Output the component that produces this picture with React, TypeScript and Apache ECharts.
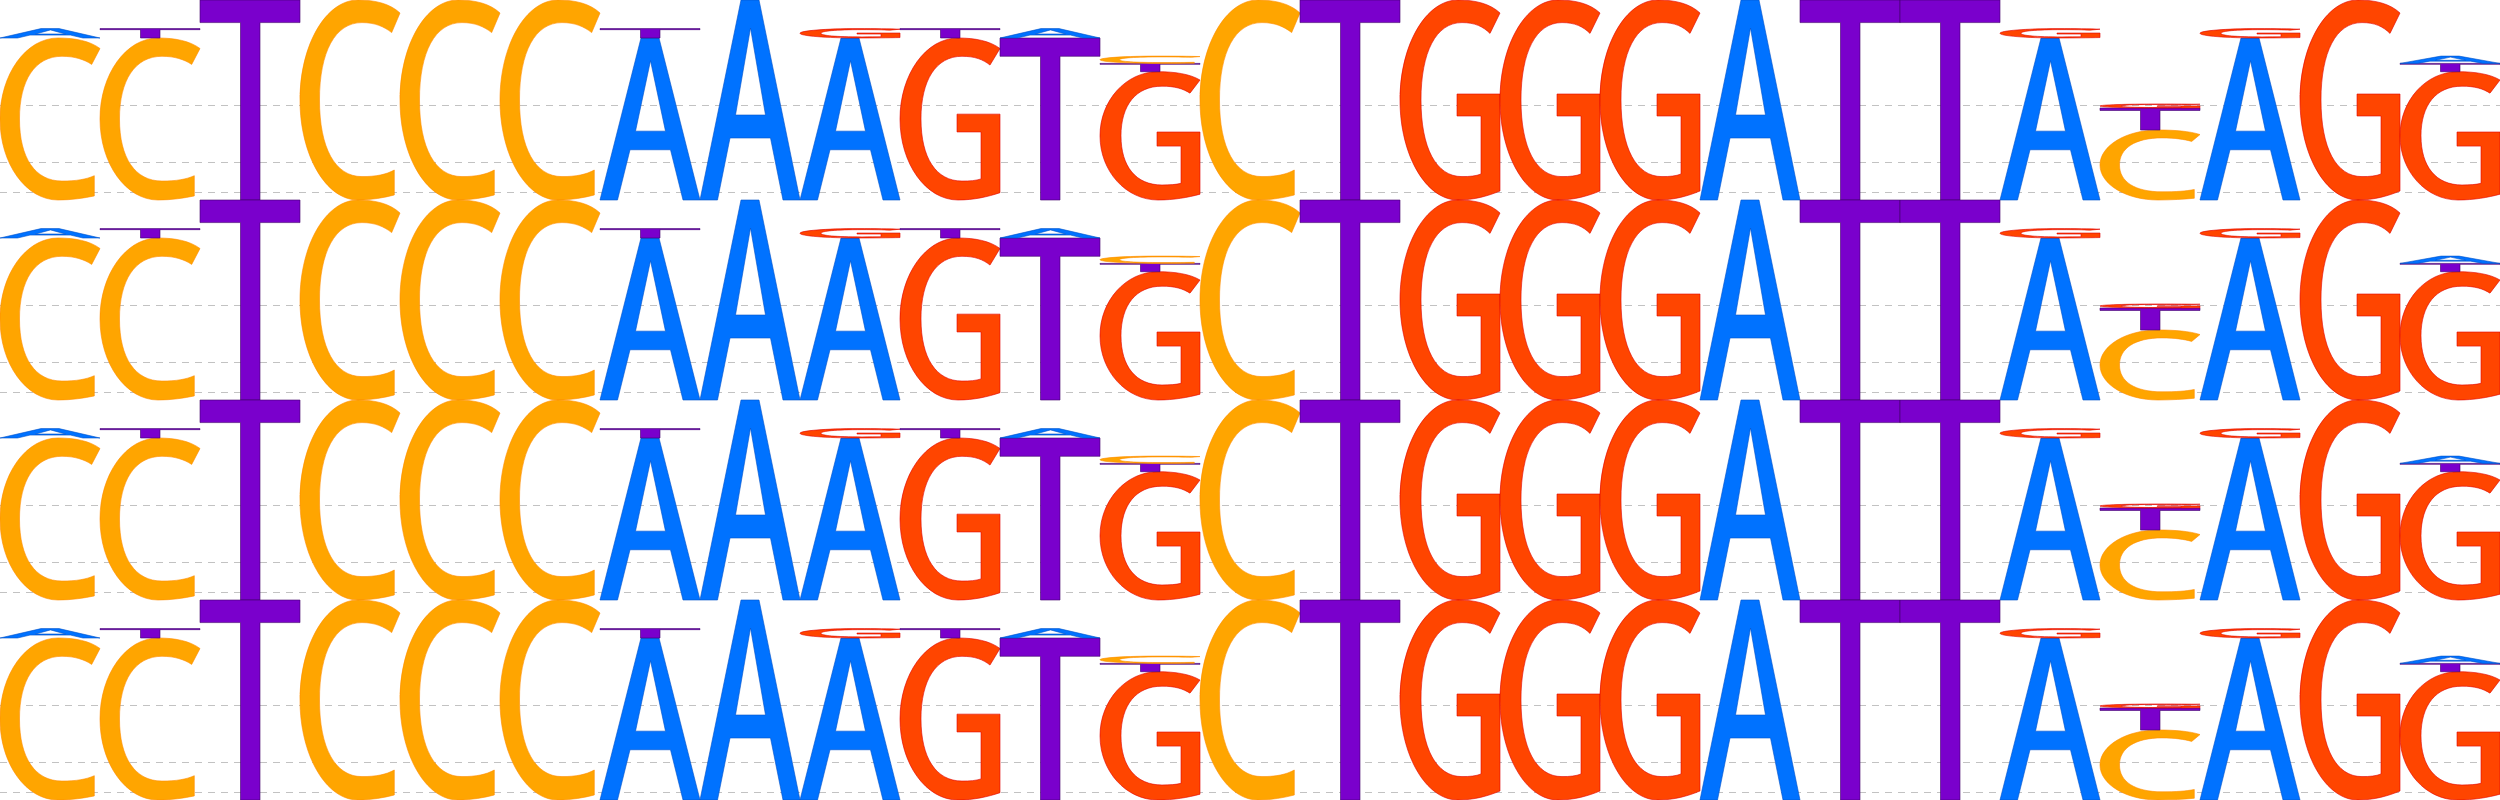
import React, { useEffect, useRef } from "react";
import * as echarts from "echarts";

// ---- data (information content in bits per position) ----
const positions = [
  "1", "2", "3", "4", "5", "6", "7", "8", "9", "10", "11", "12", "13",
  "14", "15", "16", "17", "18", "19", "20", "21", "22", "23", "24", "25",
];
const bitsA = [0.094, 0, 0, 0, 0, 0, 1.62, 2, 1.62, 0, 0.094, 0, 0, 0, 0, 0, 0, 2, 0, 0, 1.62, 0, 1.62, 0, 0.073];
const bitsC = [1.62, 1.62, 0, 2, 2, 2, 0, 0, 0, 0, 0, 0.073, 2, 0, 0, 0, 0, 0, 0, 0, 0, 0.7, 0, 0, 0];
const bitsG = [0, 0, 0, 0, 0, 0, 0, 0, 0.094, 1.62, 0, 1.283, 0, 0, 2, 2, 2, 0, 0, 0, 0.094, 0.04, 0.094, 2, 1.283];
const bitsT = [0, 0.094, 2, 0, 0, 0, 0.094, 0, 0, 0.094, 1.62, 0.083, 0, 2, 0, 0, 0, 0, 2, 2, 0, 0.22, 0, 0, 0.083];
const letters = ["A", "C", "G", "T"];
const gridValues = [0.95, 0.38, 0.08];
const rowCount = 4;

// ---- glyphs (100 x 100 box) ----
const PATHS = [
  "M41,0 L59,0 L100,100 L83,100 L70.5,69 L30,69 L17.5,100 L0,100 Z M50.5,14 L35.5,57.5 L65.5,57.5 Z",
  "M100,6.5 C90,1.8 75,0 58,0 C26,0 0,22.4 0,50 C0,77.6 26,100 58,100 C72,100 84,98.8 94.3,97.5 L94.3,85 C86,87.3 76,88.3 62,88.3 C35,88.3 19.5,74 19.5,50 C19.5,26 35,11.3 62,11.3 C75,11.3 84,13.3 91.7,16.3 Z",
  "M100,6.5 C90,1.8 75,0 58,0 C26,0 0,22.4 0,50 C0,77.6 26,100 58,100 C74,100 88,98 100,95.5 L100,47 L57,47 L57,58 L81,58 L81,87 C76,88 70,88.3 62,88.3 C36,88.3 21,74 21,50 C21,26 36,11.3 62,11.3 C75,11.3 83,13.3 90,16.7 Z",
  "M0,0 L100,0 L100,11.3 L60,11.3 L60,100 L40.5,100 L40.5,11.3 L0,11.3 Z",
];
const FILLS = ["#0072ff", "#ffa500", "#ff4500", "#7a00cc"];
const STROKES = ["#0050c8", "#ff8c00", "#e00000", "#40006a"];

function buildStacks() {
  const all = [bitsA, bitsC, bitsG, bitsT];
  const out: number[][] = [];
  positions.forEach((_, i) => {
    const items = letters
      .map((_, li) => ({ li, v: all[li][i] }))
      .filter((d) => d.v > 0)
      .sort((a, b) => b.v - a.v);
    let base = 0;
    items.forEach((d) => {
      out.push([i, base, base + d.v, d.li]);
      base += d.v;
    });
  });
  return out;
}

export default function App() {
  const ref = useRef<HTMLDivElement>(null);
  useEffect(() => {
    if (!ref.current) return;
    const chart = echarts.init(ref.current, null, { renderer: "svg" });
    const stacks = buildStacks();
    const grid: any[] = [];
    const xAxis: any[] = [];
    const yAxis: any[] = [];
    const series: any[] = [];
    for (let r = 0; r < rowCount; r++) {
      grid.push({ left: 0, right: 0, top: r * 200, height: 200 });
      xAxis.push({
        type: "category",
        gridIndex: r,
        data: positions,
        boundaryGap: true,
        show: false,
      });
      yAxis.push({
        type: "value",
        gridIndex: r,
        min: 0,
        max: 2,
        show: false,
        splitLine: { show: false },
      });
      series.push({
        type: "line",
        xAxisIndex: r,
        yAxisIndex: r,
        data: [],
        z: 1,
        silent: true,
        markLine: {
          z: 1,
          silent: true,
          symbol: ["none", "none"],
          label: { show: false },
          lineStyle: { type: [7, 6], color: "#c2c2c2", width: 1.2 },
          data: gridValues.map((v) => ({ yAxis: v })),
        },
      });
      series.push({
        type: "custom",
        xAxisIndex: r,
        yAxisIndex: r,
        z: 10,
        clip: false,
        encode: { x: 0, y: [1, 2] },
        data: stacks,
        renderItem: (params: any, api: any) => {
          const x = api.value(0);
          const y0 = api.value(1);
          const y1 = api.value(2);
          const li = api.value(3);
          const top = api.coord([x, y1]);
          const bot = api.coord([x, y0]);
          const w = api.size([1, 0])[0];
          return {
            type: "path",
            shape: {
              pathData: PATHS[li],
              x: top[0] - w / 2,
              y: top[1],
              width: w,
              height: Math.max(bot[1] - top[1], 0.3),
              layout: "cover",
            },
            style: { fill: FILLS[li], stroke: STROKES[li], lineWidth: 0.6 },
          };
        },
      });
    }
    chart.setOption({
      animation: false,
      backgroundColor: "#ffffff",
      grid,
      xAxis,
      yAxis,
      series,
    });
    return () => chart.dispose();
  }, []);
  return (
    <div
      ref={ref}
      style={{ position: "fixed", left: 0, top: 0, width: 2500, height: 800 }}
    />
  );
}
